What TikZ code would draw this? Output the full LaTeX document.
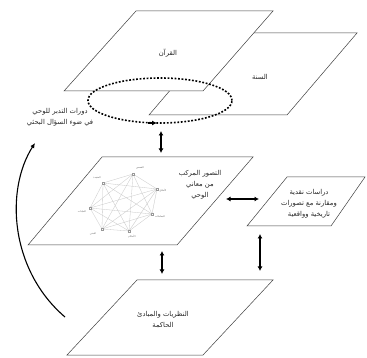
\documentclass[tikz,border=0pt]{standalone}
\usepackage{fontspec}
\usetikzlibrary{arrows.meta}
\TeXXeTstate=1
\newfontfamily\arabicfont[Script=Arabic]{DejaVu Sans}
\newcommand{\AR}[1]{\beginR #1\endR}
\begin{document}
\begin{tikzpicture}[x=1pt,y=-1pt,
  plane/.style={draw=black!75,line width=0.5pt,fill=white},
  lbl/.style={font=\arabicfont\fontsize{6.8}{11}\selectfont,align=center,text=black!85,inner sep=0pt},
  tinylbl/.style={font=\arabicfont\fontsize{2.4}{3}\selectfont,text=black!60,inner sep=0pt},
  dbl/.style={{Latex[length=4.5pt,width=5pt]}-{Latex[length=4.5pt,width=5pt]},line width=1.3pt},
  gnode/.style={draw=black!40,fill=white,minimum size=2.6pt,inner sep=0pt,line width=0.3pt},
  gedge/.style={draw=black!22,line width=0.3pt}]
\useasboundingbox (0,0) rectangle (367,358);
% Sunna plane
\coordinate (s1) at (219,33); \coordinate (s2) at (357,33);
\coordinate (s3) at (287,115); \coordinate (s4) at (149,115);
\draw[plane] (s1)--(s2)--(s3)--(s4)--cycle;
% Quran plane
\coordinate (q1) at (136,11); \coordinate (q2) at (273,11);
\coordinate (q3) at (203,91); \coordinate (q4) at (64,91);
\draw[plane] (q1)--(q2)--(q3)--(q4)--cycle;
\node[lbl] (quran) at (168,53) {\AR{القرآن}};
\node[lbl] (sunna) at (260,77) {\AR{السنة}};
% dotted cycle ellipse
\coordinate (cyc) at (160,100.5);
\draw[line width=1.6pt,dash pattern=on 1.8pt off 1.7pt]
  (cyc) ++(72pt,0) arc[start angle=0,end angle=360,x radius=72pt,y radius=22.5pt];
\coordinate (e1) at (148,123); \coordinate (e2) at (157,123);
\draw[line width=1.4pt,-{Latex[length=5pt,width=5pt]}] (e1) -- (e2);
\node[lbl] (cyclbl) at (60,117) {\AR{دورات التدبر للوحي}\\\AR{في ضوء السؤال البحثي}};
% middle plane
\coordinate (m1) at (102,157); \coordinate (m2) at (253,157);
\coordinate (m3) at (177,245); \coordinate (m4) at (28,245);
\draw[plane] (m1)--(m2)--(m3)--(m4)--cycle;
\node[lbl] (mid) at (200,185) {\AR{التصور المركب}\\\AR{من معاني}\\\AR{الوحي}};
% network
\coordinate (g1) at (133,174); \coordinate (g2) at (103,183);
\coordinate (g3) at (157,189); \coordinate (g4) at (90,208);
\coordinate (g5) at (152,214); \coordinate (g6) at (102,229);
\coordinate (g7) at (129,231);
\foreach \a/\b in {g1/g2,g1/g3,g1/g4,g1/g5,g1/g6,g1/g7,g2/g3,g2/g4,g2/g5,g2/g6,g2/g7,
  g3/g4,g3/g5,g3/g6,g3/g7,g4/g5,g4/g6,g4/g7,g5/g6,g5/g7,g6/g7}
  \draw[gedge] (\a) -- (\b);
\foreach \g in {g1,g2,g3,g4,g5,g6,g7} \node[gnode] at (\g) {};
\node[tinylbl] (t1) at (140,168) {\AR{القصص}};
\node[tinylbl] (t2) at (97,178) {\AR{العقيدة}};
\node[tinylbl] (t3) at (163,191) {\AR{الأخلاق}};
\node[tinylbl] (t4) at (82,212) {\AR{العبادات}};
\node[tinylbl] (t5) at (160,217) {\AR{المعاملات}};
\node[tinylbl] (t6) at (93,234) {\AR{السنن}};
\node[tinylbl] (t7) at (132,237) {\AR{الأحكام}};
% right plane
\coordinate (r1) at (287,177); \coordinate (r2) at (365,177);
\coordinate (r3) at (331,226); \coordinate (r4) at (247,226);
\draw[plane] (r1)--(r2)--(r3)--(r4)--cycle;
\node[lbl] (crit) at (309,203.5) {\AR{دراسات نقدية}\\\AR{ومقارنة مع تصورات}\\\AR{تاريخية وواقعية}};
% bottom plane
\coordinate (b1) at (137,280); \coordinate (b2) at (273,280);
\coordinate (b3) at (203,355); \coordinate (b4) at (67,355);
\draw[plane] (b1)--(b2)--(b3)--(b4)--cycle;
\node[lbl] (theo) at (163,319.5) {\AR{النظريات والمبادئ}\\\AR{الحاكمة}};
% arrows
\coordinate (a1) at (161,131); \coordinate (a2) at (161,153);
\draw[dbl] (a1) -- (a2);
\coordinate (h1) at (226,199); \coordinate (h2) at (259,199);
\draw[dbl] (h1) -- (h2);
\coordinate (v1) at (162,251); \coordinate (v2) at (162,274);
\draw[dbl] (v1) -- (v2);
\coordinate (w1) at (260,234); \coordinate (w2) at (260,271);
\draw[dbl] (w1) -- (w2);
\coordinate (c1) at (65,317); \coordinate (c2) at (35,143);
\draw[line width=1.1pt,-{Latex[length=5pt,width=4.5pt]}] (c1) .. controls (10,270) and (5,190) .. (c2);
\end{tikzpicture}
\end{document}
